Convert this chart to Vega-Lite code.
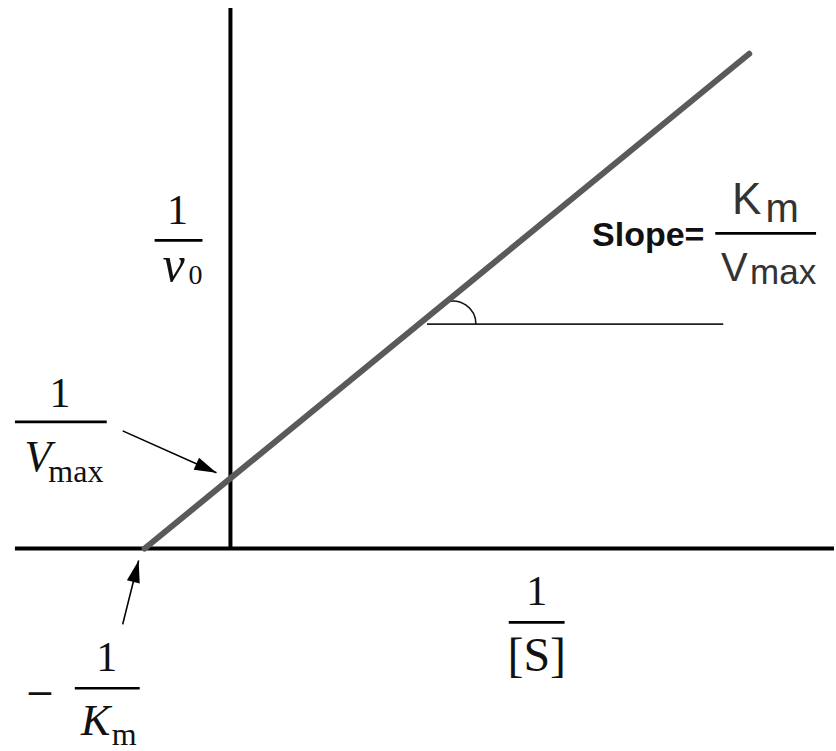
{
  "$schema": "https://vega.github.io/schema/vega-lite/v6.json",
  "autosize": {"type": "fit", "contains": "padding"},
  "width": 836,
  "height": 751,
  "padding": 0,
  "background": "white",
  "config": {"view": {"stroke": null}},
  "datasets": {
    "axes": [
      {"x": -2.512, "y": 0, "x2": 7.035, "y2": 0},
      {"x": 0, "y": 0, "x2": 0, "y2": 7.699}
    ],
    "plot": [
      {"inv_s": -1, "inv_v": 0},
      {"inv_s": 6.047, "inv_v": 7.047}
    ],
    "guide": [{"x": 2.291, "y": 3.196, "x2": 5.744, "y2": 3.196}],
    "angle": [{"x": 2.593, "y": 3.196}],
    "bars": [
      {"x": -0.884, "x2": -0.326, "y": 4.389},
      {"x": -2.512, "x2": -1.442, "y": 1.804},
      {"x": 3.244, "x2": 3.895, "y": -1.051},
      {"x": -1.814, "x2": -1.058, "y": -1.989},
      {"x": 5.651, "x2": 6.826, "y": 4.489}
    ],
    "pointerVmax": [{"x": -1.256, "y": 1.676, "x2": -0.163, "y2": 1.080}],
    "pointerKm": [{"x": -1.256, "y": -1.080, "x2": -1.070, "y2": -0.170}],
    "ones": [
      {"x": -0.616, "y": 4.616, "t": "1"},
      {"x": -1.988, "y": 2.017, "t": "1"},
      {"x": 3.570, "y": -0.810, "t": "1"},
      {"x": -1.442, "y": -1.747, "t": "1"}
    ],
    "substrate": [{"x": 3.570, "y": -1.747, "t": "[S]"}],
    "minus": [{"x": -2.221, "y": -2.230, "t": "−"}],
    "velocity": [{"x": -0.663, "y": 3.807, "t": "v"}],
    "italicCaps": [
      {"x": -2.244, "y": 1.108, "t": "V"},
      {"x": -1.570, "y": -2.656, "t": "K"}
    ],
    "zero": [{"x": -0.407, "y": 3.770, "t": "0"}],
    "serifSubs": [
      {"x": -1.802, "y": 0.952, "t": "max"},
      {"x": -1.238, "y": -2.798, "t": "m"}
    ],
    "slopeWord": [{"x": 4.870, "y": 4.304, "t": "Slope="}],
    "slopeNum": [{"x": 6.017, "y": 4.759, "t": "K"}],
    "slopeNumSub": [{"x": 6.430, "y": 4.645, "t": "m"}],
    "slopeDen": [{"x": 5.872, "y": 3.807, "t": "V"}],
    "slopeDenSub": [{"x": 6.442, "y": 3.764, "t": "max"}]
  },
  "layer": [
    {
      "data": {"name": "axes"},
      "mark": {"type": "rule", "color": "black", "strokeWidth": 4},
      "encoding": {
        "x": {"field": "x", "type": "quantitative", "scale": {"domain": [-2.686, 7.035], "nice": false, "zero": false}, "axis": null},
        "y": {"field": "y", "type": "quantitative", "scale": {"domain": [-2.855, 7.813], "nice": false, "zero": false}, "axis": null},
        "x2": {"field": "x2"},
        "y2": {"field": "y2"}
      }
    },
    {
      "data": {"name": "guide"},
      "mark": {"type": "rule", "color": "#222222", "strokeWidth": 1.6},
      "encoding": {
        "x": {"field": "x", "type": "quantitative"},
        "y": {"field": "y", "type": "quantitative"},
        "x2": {"field": "x2"},
        "y2": {"field": "y2"}
      }
    },
    {
      "data": {"name": "angle"},
      "mark": {"type": "point", "shape": "M-0.35,-0.94 A1,1 0 0,1 1,0", "size": 2116, "filled": false, "stroke": "#111111", "strokeWidth": 1.6, "opacity": 1},
      "encoding": {
        "x": {"field": "x", "type": "quantitative"},
        "y": {"field": "y", "type": "quantitative"}
      }
    },
    {
      "data": {"name": "plot"},
      "mark": {"type": "line", "color": "#5a5a5a", "strokeWidth": 6, "strokeCap": "round"},
      "encoding": {
        "x": {"field": "inv_s", "type": "quantitative"},
        "y": {"field": "inv_v", "type": "quantitative"}
      }
    },
    {
      "data": {"name": "bars"},
      "mark": {"type": "rule", "color": "black", "strokeWidth": 2.6},
      "encoding": {
        "x": {"field": "x", "type": "quantitative"},
        "x2": {"field": "x2"},
        "y": {"field": "y", "type": "quantitative"}
      }
    },
    {
      "data": {"name": "pointerVmax"},
      "layer": [
        {
          "mark": {"type": "rule", "color": "black", "strokeWidth": 1.6},
          "encoding": {
            "x": {"field": "x", "type": "quantitative"},
            "y": {"field": "y", "type": "quantitative"},
            "x2": {"field": "x2"},
            "y2": {"field": "y2"}
          }
        },
        {
          "mark": {"type": "point", "shape": "M0,0 L-1,-0.3 L-1,0.3 Z", "size": 1936, "filled": true, "color": "black", "opacity": 1, "angle": 24},
          "encoding": {
            "x": {"field": "x2", "type": "quantitative"},
            "y": {"field": "y2", "type": "quantitative"}
          }
        }
      ]
    },
    {
      "data": {"name": "pointerKm"},
      "layer": [
        {
          "mark": {"type": "rule", "color": "black", "strokeWidth": 1.6},
          "encoding": {
            "x": {"field": "x", "type": "quantitative"},
            "y": {"field": "y", "type": "quantitative"},
            "x2": {"field": "x2"},
            "y2": {"field": "y2"}
          }
        },
        {
          "mark": {"type": "point", "shape": "M0,0 L-1,-0.3 L-1,0.3 Z", "size": 1936, "filled": true, "color": "black", "opacity": 1, "angle": 284},
          "encoding": {
            "x": {"field": "x2", "type": "quantitative"},
            "y": {"field": "y2", "type": "quantitative"}
          }
        }
      ]
    },
    {
      "data": {"name": "ones"},
      "mark": {"type": "text", "font": "Liberation Serif", "fontSize": 42, "align": "center", "baseline": "alphabetic", "color": "#111111"},
      "encoding": {
        "x": {"field": "x", "type": "quantitative"},
        "y": {"field": "y", "type": "quantitative"},
        "text": {"field": "t"}
      }
    },
    {
      "data": {"name": "substrate"},
      "mark": {"type": "text", "font": "Liberation Serif", "fontSize": 48, "align": "center", "baseline": "alphabetic", "color": "#111111"},
      "encoding": {
        "x": {"field": "x", "type": "quantitative"},
        "y": {"field": "y", "type": "quantitative"},
        "text": {"field": "t"}
      }
    },
    {
      "data": {"name": "minus"},
      "mark": {"type": "text", "font": "DejaVu Serif", "fontSize": 36, "align": "center", "baseline": "alphabetic", "color": "#111111"},
      "encoding": {
        "x": {"field": "x", "type": "quantitative"},
        "y": {"field": "y", "type": "quantitative"},
        "text": {"field": "t"}
      }
    },
    {
      "data": {"name": "velocity"},
      "mark": {"type": "text", "font": "Liberation Serif", "fontStyle": "italic", "fontSize": 50, "align": "center", "baseline": "alphabetic", "color": "#111111"},
      "encoding": {
        "x": {"field": "x", "type": "quantitative"},
        "y": {"field": "y", "type": "quantitative"},
        "text": {"field": "t"}
      }
    },
    {
      "data": {"name": "italicCaps"},
      "mark": {"type": "text", "font": "Liberation Serif", "fontStyle": "italic", "fontSize": 44, "align": "center", "baseline": "alphabetic", "color": "#111111"},
      "encoding": {
        "x": {"field": "x", "type": "quantitative"},
        "y": {"field": "y", "type": "quantitative"},
        "text": {"field": "t"}
      }
    },
    {
      "data": {"name": "zero"},
      "mark": {"type": "text", "font": "Liberation Serif", "fontSize": 28, "align": "center", "baseline": "alphabetic", "color": "#111111"},
      "encoding": {
        "x": {"field": "x", "type": "quantitative"},
        "y": {"field": "y", "type": "quantitative"},
        "text": {"field": "t"}
      }
    },
    {
      "data": {"name": "serifSubs"},
      "mark": {"type": "text", "font": "Liberation Serif", "fontSize": 32, "align": "center", "baseline": "alphabetic", "color": "#111111"},
      "encoding": {
        "x": {"field": "x", "type": "quantitative"},
        "y": {"field": "y", "type": "quantitative"},
        "text": {"field": "t"}
      }
    },
    {
      "data": {"name": "slopeWord"},
      "mark": {"type": "text", "font": "Liberation Sans", "fontWeight": "bold", "fontSize": 34, "align": "center", "baseline": "alphabetic", "color": "#111111"},
      "encoding": {
        "x": {"field": "x", "type": "quantitative"},
        "y": {"field": "y", "type": "quantitative"},
        "text": {"field": "t"}
      }
    },
    {
      "data": {"name": "slopeNum"},
      "mark": {"type": "text", "font": "Liberation Sans", "fontSize": 44, "align": "center", "baseline": "alphabetic", "color": "#333333"},
      "encoding": {
        "x": {"field": "x", "type": "quantitative"},
        "y": {"field": "y", "type": "quantitative"},
        "text": {"field": "t"}
      }
    },
    {
      "data": {"name": "slopeNumSub"},
      "mark": {"type": "text", "font": "Liberation Sans", "fontSize": 40, "align": "center", "baseline": "alphabetic", "color": "#333333"},
      "encoding": {
        "x": {"field": "x", "type": "quantitative"},
        "y": {"field": "y", "type": "quantitative"},
        "text": {"field": "t"}
      }
    },
    {
      "data": {"name": "slopeDen"},
      "mark": {"type": "text", "font": "Liberation Sans", "fontSize": 40, "align": "center", "baseline": "alphabetic", "color": "#333333"},
      "encoding": {
        "x": {"field": "x", "type": "quantitative"},
        "y": {"field": "y", "type": "quantitative"},
        "text": {"field": "t"}
      }
    },
    {
      "data": {"name": "slopeDenSub"},
      "mark": {"type": "text", "font": "Liberation Sans", "fontSize": 35, "align": "center", "baseline": "alphabetic", "color": "#333333"},
      "encoding": {
        "x": {"field": "x", "type": "quantitative"},
        "y": {"field": "y", "type": "quantitative"},
        "text": {"field": "t"}
      }
    }
  ]
}
